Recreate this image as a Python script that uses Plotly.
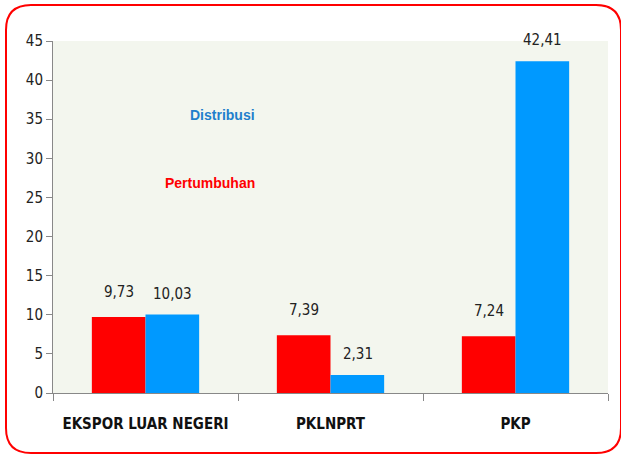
import plotly.graph_objects as go

categories = ["EKSPOR LUAR NEGERI", "PKLNPRT", "PKP"]
pertumbuhan = [9.73, 7.39, 7.24]
distribusi = [10.03, 2.31, 42.41]
pertumbuhan_labels = ["9,73", "7,39", "7,24"]
distribusi_labels = ["10,03", "2,31", "42,41"]
y_ticks = [0, 5, 10, 15, 20, 25, 30, 35, 40, 45]

RED = "#FF0000"
BLUE = "#0099FF"
NARROW = "DejaVu Sans Condensed, sans-serif"

W, H = 621, 455
L, R, T, B = 53, 13, 41, 62
pw, ph = W - L - R, H - T - B

fig = go.Figure()
fig.add_trace(go.Bar(name="Pertumbuhan", x=categories, y=pertumbuhan,
                     marker=dict(color=RED, line=dict(width=0))))
fig.add_trace(go.Bar(name="Distribusi", x=categories, y=distribusi,
                     marker=dict(color=BLUE, line=dict(width=0))))

annotations = []
for c, v, t in zip(categories, pertumbuhan, pertumbuhan_labels):
    annotations.append(dict(x=c, y=v, text=t, xref="x", yref="y", showarrow=False,
                            xshift=-27, yshift=14, yanchor="bottom", xanchor="center",
                            font=dict(family=NARROW, size=15, color="#222222")))
for c, v, t in zip(categories, distribusi, distribusi_labels):
    annotations.append(dict(x=c, y=v, text=t, xref="x", yref="y", showarrow=False,
                            xshift=27, yshift=10, yanchor="bottom", xanchor="center",
                            font=dict(family=NARROW, size=15, color="#222222")))

def px2paper(x, y):
    return (x - L) / pw, (H - B - y) / ph

annotations.append(dict(x=px2paper(222, 0)[0], y=px2paper(0, 115)[1], xref="paper", yref="paper",
                        text="<b>Distribusi</b>", showarrow=False, xanchor="center", yanchor="middle",
                        font=dict(family="Liberation Sans, sans-serif", size=14, color="#1F7FCC")))
annotations.append(dict(x=px2paper(210, 0)[0], y=px2paper(0, 183)[1], xref="paper", yref="paper",
                        text="<b>Pertumbuhan</b>", showarrow=False, xanchor="center", yanchor="middle",
                        font=dict(family="Liberation Sans, sans-serif", size=14, color=RED)))

# rounded border in paper coords
x0, y0, x1, y1, r = 6, 5, 621, 453, 25
def P(x, y):
    a, b = px2paper(x, y)
    return f"{a:.5f},{b:.5f}"
path = (f"M {P(x0 + r, y0)} L {P(x1 - r, y0)} Q {P(x1, y0)} {P(x1, y0 + r)} "
        f"L {P(x1, y1 - r)} Q {P(x1, y1)} {P(x1 - r, y1)} "
        f"L {P(x0 + r, y1)} Q {P(x0, y1)} {P(x0, y1 - r)} "
        f"L {P(x0, y0 + r)} Q {P(x0, y0)} {P(x0 + r, y0)} Z")

fig.update_layout(
    width=W, height=H,
    margin=dict(l=L, r=R, t=T, b=B),
    paper_bgcolor="white",
    plot_bgcolor="#F3F6EE",
    showlegend=False,
    barmode="group",
    bargap=0.42,
    bargroupgap=0,
    annotations=annotations,
    shapes=[dict(type="path", path=path, xref="paper", yref="paper",
                 line=dict(color=RED, width=2), layer="above")],
    xaxis=dict(tickson="boundaries", ticks="outside", ticklen=7, tickcolor="#888888",
               showline=True, linecolor="#888888", linewidth=1,
               tickfont=dict(family=NARROW, size=15, color="#111111"),
               ticklabelstandoff=17,
               showgrid=False),
    yaxis=dict(range=[0, 45], tickvals=y_ticks, ticks="outside", ticklen=6,
               tickcolor="#888888", showline=True, linecolor="#888888", linewidth=1,
               showgrid=False, zeroline=False,
               tickfont=dict(family=NARROW, size=15, color="#222222")),
)
fig.update_xaxes(tickvals=categories, ticktext=[f"<b>{c}</b>" for c in categories])

fig.write_html("out.html", config={"displayModeBar": False},
               post_script="document.body.style.margin='0';document.body.style.overflow='hidden';")
